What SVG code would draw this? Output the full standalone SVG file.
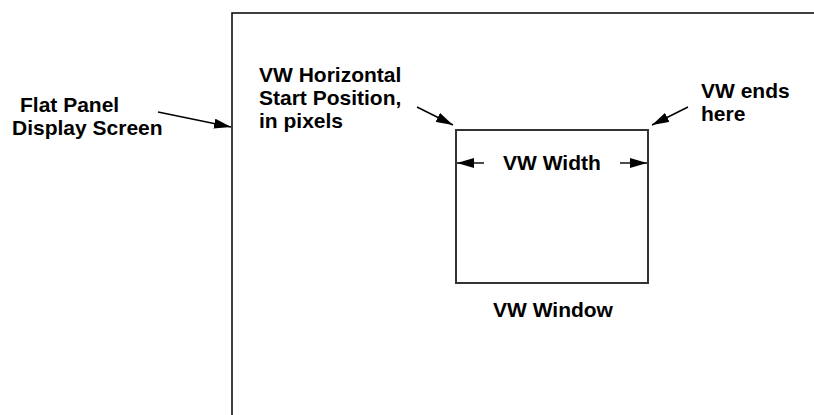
<svg xmlns="http://www.w3.org/2000/svg" width="814" height="415" viewBox="0 0 814 415">
  <style>
    .lbl { font-family: "Liberation Sans", Arial, sans-serif; font-weight: bold; font-size: 21px; fill: #000; }
    .edge { stroke: #000; stroke-width: 1.4; fill: none; }
    .frame { stroke: #000; stroke-width: 1.5; fill: none; }
    .vw { stroke: #333; stroke-width: 2; fill: #fff; }
  </style>
  <defs>
    <marker id="arrow" viewBox="0 0 17 10" refX="17" refY="5" markerWidth="17" markerHeight="10" markerUnits="userSpaceOnUse" orient="auto">
      <path d="M0,0 L17,5 L0,10 z" fill="#000"/>
    </marker>
  </defs>

  <!-- display screen outline -->
  <g id="screen">
    <path class="frame" d="M232,415 L232,13 L814,13"/>
  </g>

  <!-- visible window rectangle -->
  <g id="vw-window">
    <rect class="vw" x="456" y="130" width="192" height="153"/>
    <text class="lbl" x="493" y="317">VW Window</text>
  </g>

  <g id="screen-label">
    <text class="lbl" x="20" y="112">Flat Panel</text>
    <text class="lbl" x="12" y="135">Display Screen</text>
  </g>

  <g id="start-label">
    <text class="lbl" x="259" y="82">VW Horizontal</text>
    <text class="lbl" x="259" y="105">Start Position,</text>
    <text class="lbl" x="259" y="128">in pixels</text>
  </g>

  <g id="end-label">
    <text class="lbl" x="701" y="98">VW ends</text>
    <text class="lbl" x="701" y="121">here</text>
  </g>

  <g id="width-label">
    <text class="lbl" x="503" y="170">VW Width</text>
  </g>

  <!-- connectors -->
  <g id="connectors">
    <line class="edge" x1="158" y1="112" x2="231" y2="127" marker-end="url(#arrow)"/>
    <line class="edge" x1="417" y1="107" x2="453" y2="125" marker-end="url(#arrow)"/>
    <line class="edge" x1="688" y1="107" x2="652" y2="125" marker-end="url(#arrow)"/>
    <line class="edge" x1="484" y1="163" x2="457" y2="163" marker-end="url(#arrow)"/>
    <line class="edge" x1="620" y1="163" x2="647" y2="163" marker-end="url(#arrow)"/>
  </g>
</svg>
